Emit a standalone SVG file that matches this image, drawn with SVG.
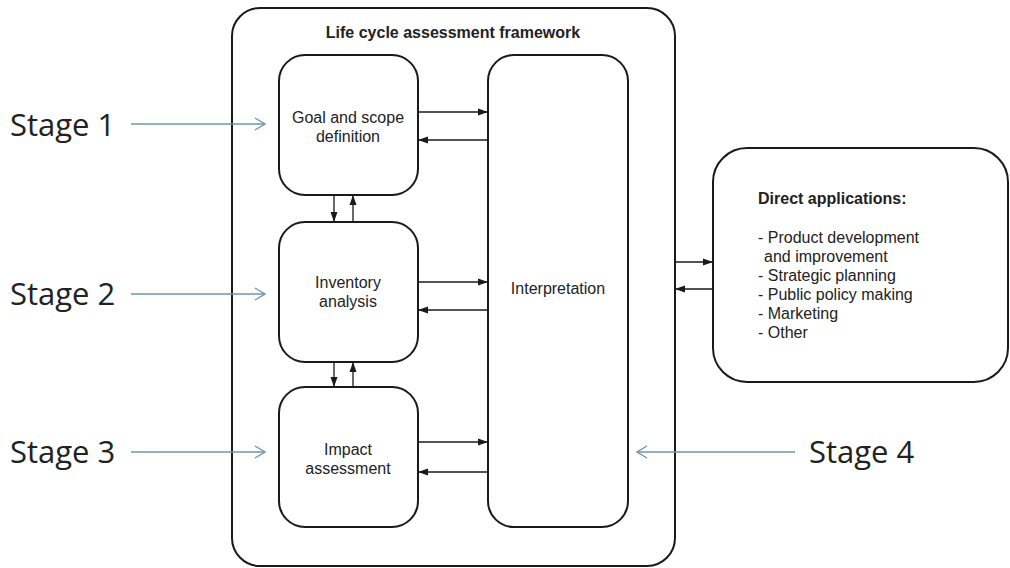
<svg xmlns="http://www.w3.org/2000/svg" width="1010" height="568" viewBox="0 0 1010 568">
<style>
.box{fill:#fff;stroke:#1a1a1a;stroke-width:2}
.frame{fill:none;stroke:#1a1a1a;stroke-width:2}
.lbl{font-family:"Liberation Sans",Arial,sans-serif;font-size:16px;fill:#222;text-anchor:middle}
.bold{font-weight:bold}
.app{font-family:"Liberation Sans",Arial,sans-serif;font-size:16px;fill:#222}
.stage{font-family:"Open Sans","Noto Sans",sans-serif;font-size:31px;fill:#222}
.c{stroke:#1a1a1a;stroke-width:1.3;fill:none}
.b{stroke:#6f94ae;stroke-width:1.3;fill:none}
</style>
<defs>
<marker id="ah" viewBox="0 0 10 10" refX="10" refY="5" markerWidth="10" markerHeight="10" markerUnits="userSpaceOnUse" orient="auto">
<path d="M0,1.5 L10,5 L0,8.5 Z" fill="#1a1a1a"/>
</marker>
<marker id="bh" viewBox="0 0 12 14" refX="11" refY="7" markerWidth="12" markerHeight="14" markerUnits="userSpaceOnUse" orient="auto">
<path d="M1,1 L11,7 L1,13" fill="none" stroke="#6f94ae" stroke-width="1.3"/>
</marker>
</defs>
<rect width="1010" height="568" fill="#fff"/>
<g id="framework">
<rect class="frame" x="232" y="8" width="443" height="558" rx="28"/>
<text class="lbl bold" x="453" y="38">Life cycle assessment framework</text>
</g>
<g id="goal">
<rect class="box" x="279" y="55" width="139" height="140" rx="26"/>
<text class="lbl" x="348" y="123">Goal and scope</text>
<text class="lbl" x="348" y="142">definition</text>
</g>
<g id="inventory">
<rect class="box" x="279" y="222" width="139" height="140" rx="26"/>
<text class="lbl" x="348" y="288">Inventory</text>
<text class="lbl" x="348" y="307">analysis</text>
</g>
<g id="impact">
<rect class="box" x="279" y="387" width="139" height="140" rx="26"/>
<text class="lbl" x="348" y="455">Impact</text>
<text class="lbl" x="348" y="474">assessment</text>
</g>
<g id="interpretation">
<rect class="box" x="488" y="55" width="140" height="472" rx="26"/>
<text class="lbl" x="558" y="294">Interpretation</text>
</g>
<g id="applications">
<rect class="box" x="713" y="148" width="295" height="234" rx="34"/>
<text class="app bold" x="758" y="204">Direct applications:</text>
<text class="app" x="758" y="243">- Product development</text>
<text class="app" x="764" y="262">and improvement</text>
<text class="app" x="758" y="281">- Strategic planning</text>
<text class="app" x="758" y="300">- Public policy making</text>
<text class="app" x="758" y="319">- Marketing</text>
<text class="app" x="758" y="338">- Other</text>
</g>
<g id="stages">
<text class="stage" x="10" y="136">Stage 1</text>
<text class="stage" x="10" y="305">Stage 2</text>
<text class="stage" x="10" y="463">Stage 3</text>
<text class="stage" x="809" y="463">Stage 4</text>
</g>
<g id="connectors">
<line class="c" x1="418" y1="112" x2="488" y2="112" marker-end="url(#ah)"/>
<line class="c" x1="488" y1="140" x2="418" y2="140" marker-end="url(#ah)"/>
<line class="c" x1="418" y1="282" x2="488" y2="282" marker-end="url(#ah)"/>
<line class="c" x1="488" y1="310" x2="418" y2="310" marker-end="url(#ah)"/>
<line class="c" x1="418" y1="442" x2="488" y2="442" marker-end="url(#ah)"/>
<line class="c" x1="488" y1="472" x2="418" y2="472" marker-end="url(#ah)"/>
<line class="c" x1="334" y1="195" x2="334" y2="222" marker-end="url(#ah)"/>
<line class="c" x1="353" y1="222" x2="353" y2="195" marker-end="url(#ah)"/>
<line class="c" x1="334" y1="362" x2="334" y2="387" marker-end="url(#ah)"/>
<line class="c" x1="353" y1="387" x2="353" y2="362" marker-end="url(#ah)"/>
<line class="c" x1="675" y1="262" x2="713" y2="262" marker-end="url(#ah)"/>
<line class="c" x1="713" y1="289" x2="675" y2="289" marker-end="url(#ah)"/>
<line class="b" x1="131" y1="124" x2="265" y2="124" marker-end="url(#bh)"/>
<line class="b" x1="131" y1="294" x2="265" y2="294" marker-end="url(#bh)"/>
<line class="b" x1="131" y1="452" x2="265" y2="452" marker-end="url(#bh)"/>
<line class="b" x1="795" y1="452" x2="637" y2="452" marker-end="url(#bh)"/>
</g>
</svg>
